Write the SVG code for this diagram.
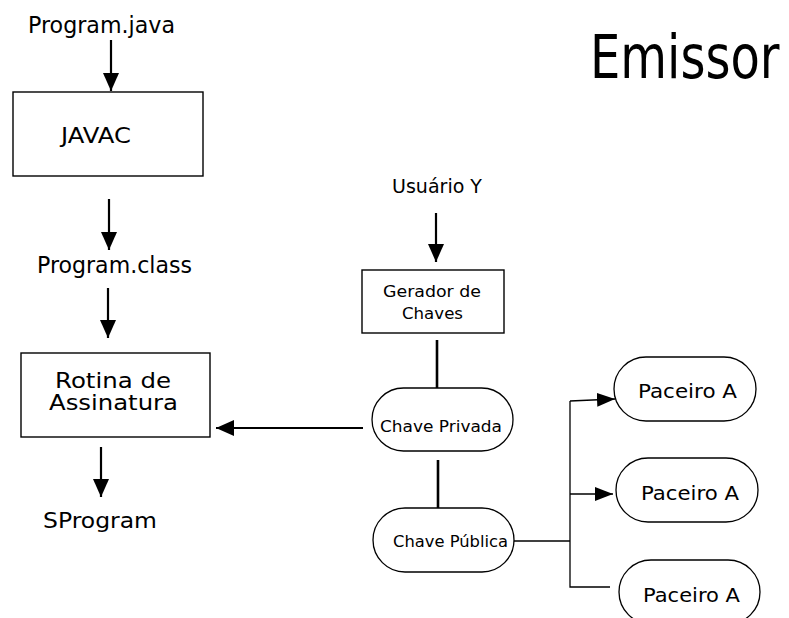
<svg xmlns="http://www.w3.org/2000/svg" width="789" height="618" viewBox="0 0 789 618">
  <style>
    text { font-family: "DejaVu Sans", "Liberation Sans", sans-serif; fill: #000; }
    .box { fill: #fff; stroke: #000; stroke-width: 1.4; }
    .pill { fill: #fff; stroke: #000; stroke-width: 1.3; }
    .arr { stroke: #000; stroke-width: 2.2; fill: none; marker-end: url(#head); }
    .thin { stroke: #000; stroke-width: 1.3; fill: none; }
    .thinarr { stroke: #000; stroke-width: 1.3; fill: none; marker-end: url(#headSmall); }
    .bar { stroke: #000; stroke-width: 2.6; fill: none; }
  </style>
  <defs>
    <marker id="head" markerUnits="userSpaceOnUse" markerWidth="18" markerHeight="16" refX="18" refY="8" orient="auto">
      <path d="M0,0 L18,8 L0,16 z" fill="#000"/>
    </marker>
    <marker id="headSmall" markerUnits="userSpaceOnUse" markerWidth="18" markerHeight="14" refX="18" refY="7" orient="auto">
      <path d="M0,0 L18,7 L0,14 z" fill="#000"/>
    </marker>
  </defs>

  <rect width="789" height="618" fill="#fff"/>

  <!-- title, stretched vertically to a tall display face -->
  <text transform="translate(590,78) scale(1,1.25)" x="0" y="0" font-size="48">Emissor</text>

  <!-- connectors -->
  <g id="connectors">
    <line class="arr" x1="111" y1="40" x2="111" y2="91"/>
    <line class="arr" x1="109" y1="199" x2="109" y2="250"/>
    <line class="arr" x1="108" y1="288" x2="108" y2="338"/>
    <line class="arr" x1="101" y1="447" x2="101" y2="497"/>
    <line class="arr" x1="363" y1="428" x2="216" y2="428"/>
    <line class="arr" x1="436" y1="213" x2="436" y2="262"/>
    <line class="bar" x1="437" y1="340" x2="437" y2="389"/>
    <line class="bar" x1="438" y1="460" x2="438" y2="508"/>
    <polyline class="thin" points="514,541 570,541"/>
    <polyline class="thin" points="570,401 570,587 610,587"/>
    <line class="thinarr" x1="570" y1="401" x2="615" y2="399"/>
    <line class="thinarr" x1="570" y1="494" x2="613" y2="494"/>
  </g>

  <!-- free labels -->
  <g id="program-java">
    <text x="28" y="33" font-size="23" textLength="147" lengthAdjust="spacingAndGlyphs">Program.java</text>
  </g>
  <g id="program-class">
    <text x="37" y="273" font-size="23" textLength="155" lengthAdjust="spacingAndGlyphs">Program.class</text>
  </g>
  <g id="sprogram">
    <text x="43" y="528" font-size="21" textLength="114" lengthAdjust="spacingAndGlyphs">SProgram</text>
  </g>
  <g id="usuario-y">
    <text x="392" y="193" font-size="20" textLength="90" lengthAdjust="spacingAndGlyphs">Usuário Y</text>
  </g>

  <!-- boxes -->
  <g id="javac">
    <rect class="box" x="13" y="92" width="190" height="84"/>
    <text x="61" y="143" font-size="22" textLength="70" lengthAdjust="spacingAndGlyphs">JAVAC</text>
  </g>
  <g id="rotina-assinatura">
    <rect class="box" x="21" y="353" width="189" height="84"/>
    <text x="55" y="388" font-size="21" textLength="116" lengthAdjust="spacingAndGlyphs">Rotina de</text>
    <text x="49" y="410" font-size="21" textLength="129" lengthAdjust="spacingAndGlyphs">Assinatura</text>
  </g>
  <g id="gerador-chaves">
    <rect class="box" x="362" y="270" width="142" height="63"/>
    <text x="383" y="297" font-size="15" textLength="98" lengthAdjust="spacingAndGlyphs">Gerador de</text>
    <text x="402" y="319" font-size="15" textLength="61" lengthAdjust="spacingAndGlyphs">Chaves</text>
  </g>

  <!-- key pills -->
  <g id="chave-privada">
    <rect class="pill" x="372" y="388" width="141" height="63" rx="31.5"/>
    <text x="380" y="432" font-size="16" textLength="122" lengthAdjust="spacingAndGlyphs">Chave Privada</text>
  </g>
  <g id="chave-publica">
    <rect class="pill" x="373" y="508" width="141" height="64" rx="32"/>
    <text x="393" y="547" font-size="16" textLength="115" lengthAdjust="spacingAndGlyphs">Chave Pública</text>
  </g>

  <!-- partners -->
  <g id="parceiro-1">
    <rect class="pill" x="614" y="357" width="142" height="64" rx="32"/>
    <text x="638" y="398" font-size="20" textLength="99" lengthAdjust="spacingAndGlyphs">Paceiro A</text>
  </g>
  <g id="parceiro-2">
    <rect class="pill" x="616" y="458" width="142" height="64" rx="32"/>
    <text x="641" y="500" font-size="20" textLength="98" lengthAdjust="spacingAndGlyphs">Paceiro A</text>
  </g>
  <g id="parceiro-3">
    <rect class="pill" x="619" y="560" width="141" height="64" rx="32"/>
    <text x="643" y="602" font-size="20" textLength="97" lengthAdjust="spacingAndGlyphs">Paceiro A</text>
  </g>
</svg>
